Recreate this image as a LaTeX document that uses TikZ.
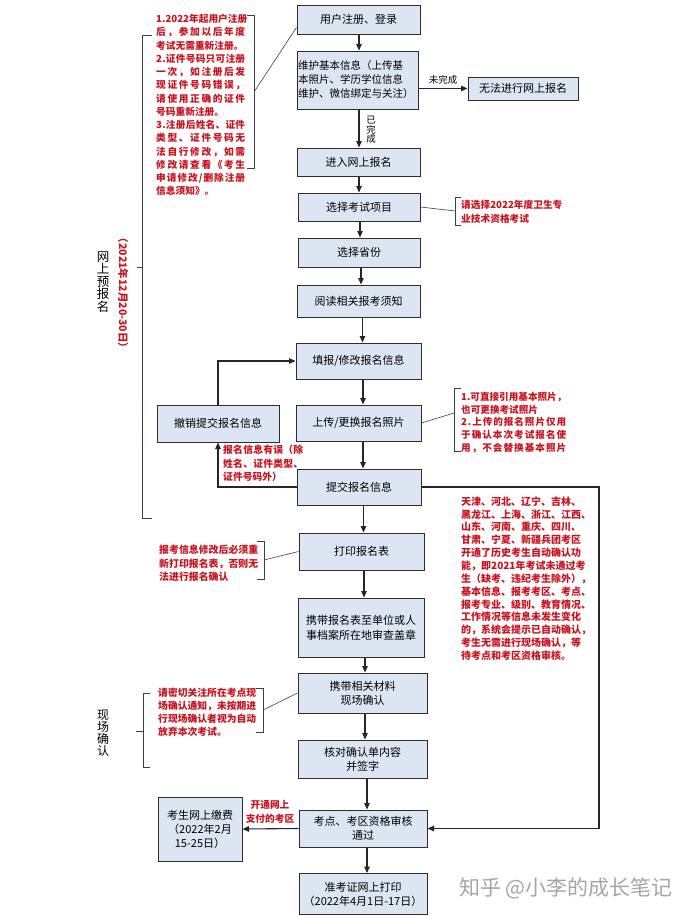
\documentclass[tikz,border=0pt]{standalone}
\usepackage{fontspec}
\setmainfont{Noto Sans CJK SC}
\usetikzlibrary{arrows.meta,calc}
\definecolor{boxfill}{RGB}{220,230,242}
\definecolor{boxline}{RGB}{45,45,45}
\definecolor{notered}{RGB}{200,18,30}
% justified line: spreads the characters over the given width
\newcommand\jl[2]{\makebox[#1][s]{\jlA#2\relax}}
\def\jlA#1{#1\jlB}
\def\jlB#1{\ifx\relax#1\else\hfil#1\expandafter\jlB\fi}
\tikzset{
 box/.style={draw=boxline, fill=boxfill, line width=1pt, inner sep=1pt, align=center, font=\fontsize{11}{14}\selectfont},
 arr/.style={draw=black!85, line width=1.1pt, -{Triangle[length=6.5pt,width=5.5pt]}},
 thinline/.style={draw=black!75, line width=0.6pt},
 note/.style={text=notered, font=\bfseries\fontsize{9.7}{13.2}\selectfont, align=left, inner sep=0pt},
 lbl/.style={font=\fontsize{9.5}{9.5}\selectfont, inner sep=0pt, align=center},
 side/.style={font=\fontsize{12.5}{12.6}\selectfont, align=center, inner sep=0pt},
}
\begin{document}
\begin{tikzpicture}[x=1pt,y=-1pt]
\useasboundingbox (0,0) rectangle (688,916);
\fill[white] (0,0) rectangle (688,916);

% ---------- boxes ----------
\node[box, minimum width=123pt, minimum height=29pt] (b1) at (358.5,19.5) {用户注册、登录};
\node[box, minimum width=121pt, minimum height=58pt, text width=119pt, align=left, font=\fontsize{10.5}{14}\selectfont] (b2) at (357.5,80) {维护基本信息（上传基\\本照片、学历学位信息\\维护、微信绑定与关注）};
\node[box, minimum width=110pt, minimum height=23pt] (b3) at (523,88.5) {无法进行网上报名};
\node[box, minimum width=123pt, minimum height=28pt] (b4) at (358.5,162) {进入网上报名};
\node[box, minimum width=122pt, minimum height=28pt] (b5) at (359,207) {选择考试项目};
\node[box, minimum width=122pt, minimum height=29pt] (b6) at (359,252.5) {选择省份};
\node[box, minimum width=123pt, minimum height=32pt] (b7) at (358.5,301) {阅读相关报考须知};
\node[box, minimum width=125pt, minimum height=36pt] (b8) at (358.5,361) {填报/修改报名信息};
\node[box, minimum width=125pt, minimum height=36pt] (b9) at (358.5,423) {上传/更换报名照片};
\node[box, minimum width=122pt, minimum height=37pt] (b10) at (218,423.5) {撤销提交报名信息};
\node[box, minimum width=124pt, minimum height=36pt] (b11) at (359,487) {提交报名信息};
\node[box, minimum width=125pt, minimum height=37pt] (b12) at (361.5,551.5) {打印报名表};
\node[box, minimum width=126pt, minimum height=59pt, font=\fontsize{11}{15}\selectfont] (b13) at (361,627.5) {携带报名表至单位或人\\事档案所在地审查盖章};
\node[box, minimum width=129pt, minimum height=40pt] (b14) at (362.5,693) {携带相关材料\\现场确认};
\node[box, minimum width=129pt, minimum height=38pt] (b15) at (362.5,759) {核对确认单内容\\并签字};
\node[box, minimum width=128pt, minimum height=37pt] (b16) at (363,828.5) {考点、考区资格审核\\通过};
\node[box, minimum width=84pt, minimum height=64pt] (b17) at (200,829) {考生网上缴费\\（2022年2月\\15-25日）};
\node[box, minimum width=128pt, minimum height=41pt] (b18) at (363,894) {准考证网上打印\\（2022年4月1日-17日）};

% ---------- main arrows ----------
\draw[arr] ([xshift=0.5pt]b1.south) -- ([xshift=0.5pt]b1.south |- b2.north);
\draw[arr] ([xshift=1.5pt]b2.south) -- ([xshift=1.5pt]b2.south |- b4.north);
\draw[arr] ([xshift=0.5pt]b4.south) -- ([xshift=0.5pt]b4.south |- b5.north);
\draw[arr] ([xshift=1pt]b5.south) -- ([xshift=1pt]b5.south |- b6.north);
\draw[arr] ([xshift=2pt]b6.south) -- ([xshift=2pt]b6.south |- b7.north);
\draw[arr] ([xshift=4pt]b7.south) -- ([xshift=4pt]b7.south |- b8.north);
\draw[arr] ([xshift=4.5pt]b8.south) -- ([xshift=4.5pt]b8.south |- b9.north);
\draw[arr] ([xshift=4.5pt]b9.south) -- ([xshift=4.5pt]b9.south |- b11.north);
\draw[arr] ([xshift=4.5pt]b11.south) -- ([xshift=4.5pt]b11.south |- b12.north);
\draw[arr] ([xshift=2.5pt]b12.south) -- ([xshift=2.5pt]b12.south |- b13.north);
\draw[arr] ([xshift=4pt]b13.south) -- ([xshift=4pt]b13.south |- b14.north);
\draw[arr] ([xshift=2.5pt]b14.south) -- ([xshift=2.5pt]b14.south |- b15.north);
\draw[arr] ([xshift=4.5pt]b15.south) -- ([xshift=4.5pt]b15.south |- b16.north);
\draw[arr] ([xshift=4pt]b16.south) -- ([xshift=4pt]b16.south |- b18.north);

% labels on arrows
\node[lbl] (done) at (371,130) {已\\完\\成};
\node[lbl] (notdone) at (443,80) {未完成};
\draw[arr] (b2.east |- b3.west) -- (b3.west);

% loops
\draw[arr] (b10.north) -- (b10.north |- b8.west) -- (b8.west);
\draw[arr] (b11.west) -- (b11.west -| b10.south) -- (b10.south);
\coordinate (rx) at (599,0);
\draw[arr] (b11.east) -- (b11.east -| rx) -- (rx |- b16.east) -- (b16.east);
\draw[arr] (b16.west) -- (b17.east);

% ---------- side braces ----------
\draw[thinline] (152,35) -- (142,35) -- (142,518) -- (152,518);
\draw[thinline] (142,267) -- (137,267);
\node[side] (s1) at (103,282) {网\\上\\预\\报\\名};
\node[text=notered, font=\bfseries\fontsize{10.5}{11}\selectfont, rotate=-90, inner sep=0pt] (s1d) at (123,293) {（2021年12月20-30日）};

\draw[thinline] (150,693) -- (143,693) -- (143,767) -- (150,767);
\draw[thinline] (143,731) -- (136,731);
\node[side, font=\fontsize{12}{12}\selectfont] (s2) at (103,733) {现\\场\\确\\认};

% ---------- notes ----------
\draw[thinline] (247,15) -- (254,15) -- (254,168) -- (247,168);
\coordinate (n1m) at (254,92);
\draw[thinline] (n1m) -- ([yshift=-8pt]b1.west);
\node[note, font=\bfseries\fontsize{9.7}{13.25}\selectfont, anchor=west] (n1) at (156,105) {\jl{89pt}{1.2022年起用户注册}\\\jl{89pt}{后，参加以后年度}\\考试无需重新注册。\\\jl{89pt}{2.证件号码只可注册}\\\jl{89pt}{一次，如注册后发}\\\jl{89pt}{现证件号码错误，}\\\jl{89pt}{请使用正确的证件}\\号码重新注册。\\\jl{89pt}{3.注册后姓名、证件}\\\jl{89pt}{类型、证件号码无}\\\jl{89pt}{法自行修改，如需}\\\jl{89pt}{修改请查看《考生}\\\jl{89pt}{申请修改/删除注册}\\信息须知》。};

\draw[thinline] (461,197) -- (455,197) -- (455,225) -- (461,225);
\coordinate (n2m) at (455,211);
\draw[thinline] (b5.east) -- (n2m);
\node[note, font=\bfseries\fontsize{9.7}{14}\selectfont, anchor=west] (n2) at (461,212) {请选择2022年度卫生专\\业技术资格考试};

\draw[thinline] (461,388) -- (454,388) -- (454,451) -- (461,451);
\coordinate (n3m) at (454,413);
\draw[thinline] (b9.east) -- (n3m);
\node[note, font=\bfseries\fontsize{9.6}{12.75}\selectfont, anchor=west] (n3) at (461,422.5) {\jl{105pt}{1.可直接引用基本照片，}\\也可更换考试照片\\\jl{105pt}{2.上传的报名照片仅用}\\\jl{105pt}{于确认本次考试报名使}\\\jl{105pt}{用，不会替换基本照片}};

\node[note, font=\bfseries\fontsize{9.8}{13.5}\selectfont, anchor=west] (n4) at (223,463.5) {\jl{80pt}{报名信息有误（除}\\\jl{80pt}{姓名、证件类型、}\\证件号码外）};

\node[note, font=\bfseries\fontsize{10}{12.85}\selectfont, anchor=west] (n5) at (461,578.5) {天津、河北、辽宁、吉林、\\黑龙江、上海、浙江、江西、\\山东、河南、重庆、四川、\\甘肃、宁夏、新疆兵团考区\\开通了历史考生自动确认功\\能，即2021年考试未通过考\\生（缺考、违纪考生除外），\\基本信息、报考考区、考点、\\报考专业、级别、教育情况、\\工作情况等信息未发生变化\\的，系统会提示已自动确认，\\考生无需进行现场确认，等\\待考点和考区资格审核。};

\draw[thinline] (257,541) -- (264,541) -- (264,579) -- (257,579);
\coordinate (n6m) at (264,560);
\draw[thinline] (n6m) -- (b12.west);
\node[note, font=\bfseries\fontsize{9.9}{13.5}\selectfont, anchor=west] (n6) at (159,563.5) {报考信息修改后必须重\\新打印报名表，否则无\\法进行报名确认};

\draw[thinline] (256,688) -- (263,688) -- (263,732) -- (256,732);
\coordinate (n7m) at (263,710);
\draw[thinline] (n7m) -- (b14.west);
\node[note, font=\bfseries\fontsize{9.8}{13}\selectfont, anchor=west] (n7) at (158,712.5) {请密切关注所在考点现\\场确认通知，未按期进\\行现场确认者视为自动\\放弃本次考试。};

\node[note, font=\bfseries\fontsize{9.7}{14}\selectfont, align=center] (n8) at (270,812) {开通网上\\支付的考区};

% watermark
\node[text=black!35, font=\fontsize{21}{21}\selectfont, anchor=east, inner sep=0pt] (wm) at (673,888) {知乎 @小李的成长笔记};
\end{tikzpicture}
\end{document}
